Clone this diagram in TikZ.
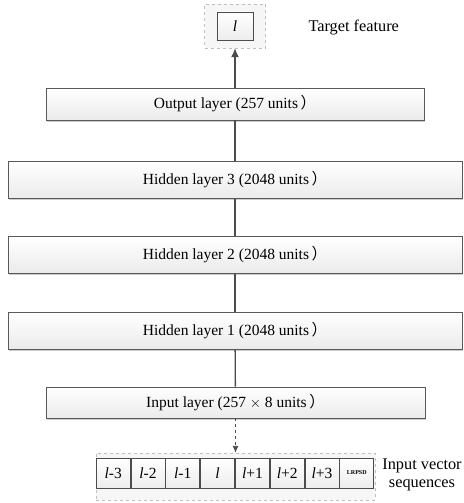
\documentclass[tikz,border=0pt]{standalone}
\usepackage{fontspec}
\setmainfont{Liberation Serif}
\newfontfamily\cjk{Noto Sans CJK SC}
\usetikzlibrary{matrix,arrows,arrows.meta,shadows}

\begin{document}
\begin{tikzpicture}[x=1pt, y=-1pt,
  font=\fontsize{15.5}{17}\selectfont,
  layer/.style={draw=gray!70!black, line width=0.8pt, top color=white, bottom color=gray!16,
    drop shadow={shadow xshift=1pt, shadow yshift=-1.5pt, fill=gray!40, opacity=1},
    inner sep=0pt, minimum width=454pt, minimum height=37pt},
  cell/.style={draw=gray!60!black, line width=0.8pt, top color=white, bottom color=gray!14,
    inner sep=0pt, minimum width=34pt, minimum height=30pt, anchor=center},
  dashbox/.style={draw=gray!50, dashed, fill=gray!7, inner sep=0pt},
  label/.style={font=\fontsize{16.3}{18}\selectfont},
  conn/.style={draw=gray!60!black, line width=1.3pt}
]
  \useasboundingbox (0,0) rectangle (463,503);

  \node[dashbox, minimum width=61pt, minimum height=44pt] (tgtbox) at (235,26) {};
  \node[cell, minimum width=36pt, minimum height=28pt] (tgt) at (235,26) {\textit{l}};
  \node[label, anchor=west] (tgtlab) at (305,28) {Target feature};

  \node[layer, minimum width=378pt, minimum height=32pt] (out) at (235,104) {Output layer (257 units\,\cjk{）}};
  \node[layer] (h3) at (235,180) {Hidden layer 3 (2048 units\,\cjk{）}};
  \node[layer] (h2) at (235,255) {Hidden layer 2 (2048 units\,\cjk{）}};
  \node[layer] (h1) at (235,331) {Hidden layer 1 (2048 units\,\cjk{）}};
  \node[layer, minimum width=379pt, minimum height=31pt] (inp) at (235.5,402.5) {Input layer (257 $\times$ 8 units\,\cjk{）}};

  \node[dashbox, minimum width=279pt, minimum height=47pt] (seqbox) at (235.5,476.5) {};
  \matrix (seq) [matrix of nodes, column sep=0pt, nodes={cell, solid}] at (235,473)
  {
\textit{l}-3 & \textit{l}-2 & \textit{l}-1 & \textit{l} & \textit{l}+1 & \textit{l}+2 & \textit{l}+3 & |[font=\fontsize{6}{7}\selectfont\bfseries]| LRPSD \\
};
  \node[label, align=center] (seqlab) at (422,475) {Input vector\\sequences};

  \draw[conn, -{Latex[length=9pt, width=8pt]}] (out) -- (tgtbox);
  \draw[conn] (h3) -- (out);
  \draw[conn] (h2) -- (h3);
  \draw[conn] (h1) -- (h2);
  \draw[conn] (inp) -- (h1);
  \draw[conn, line width=0.9pt, dashed, -{Latex[length=7pt, width=6pt]}] (inp) -- (seqbox);
\end{tikzpicture}
\end{document}
